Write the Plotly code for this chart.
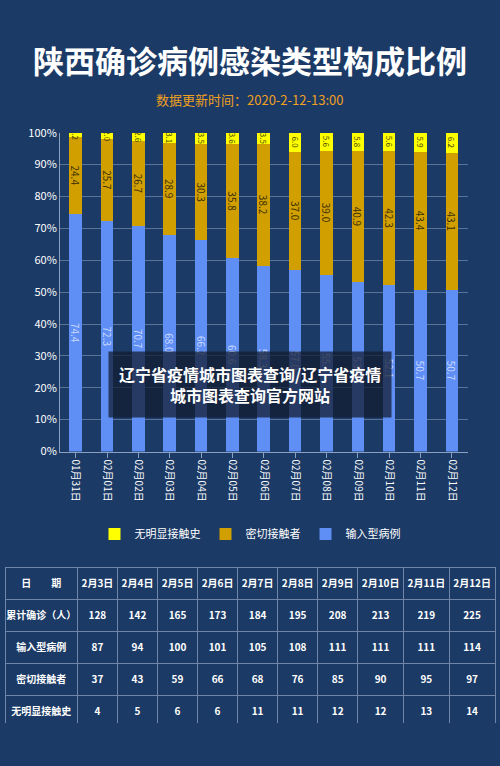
import plotly.graph_objects as go

# chart data (percent)
dates = ["01月31日", "02月01日", "02月02日", "02月03日", "02月04日", "02月05日", "02月06日",
         "02月07日", "02月08日", "02月09日", "02月10日", "02月11日", "02月12日"]
imported = [74.4, 72.3, 70.7, 68.0, 66.2, 60.6, 58.3, 57.0, 55.4, 53.3, 52.1, 50.7, 50.7]
close_contact = [24.4, 25.7, 26.7, 28.9, 30.3, 35.8, 38.2, 37.0, 39.0, 40.9, 42.3, 43.4, 43.1]
no_contact = [1.2, 2.0, 2.6, 3.1, 3.5, 3.6, 3.5, 6.0, 5.6, 5.8, 5.6, 5.9, 6.2]

# table data
tbl_dates = ["2月3日", "2月4日", "2月5日", "2月6日", "2月7日", "2月8日", "2月9日", "2月10日", "2月11日", "2月12日"]
tbl_total = [128, 142, 165, 173, 184, 195, 208, 213, 219, 225]
tbl_imported = [87, 94, 100, 101, 105, 108, 111, 111, 111, 114]
tbl_close = [37, 43, 59, 66, 68, 76, 85, 90, 95, 97]
tbl_none = [4, 5, 6, 6, 11, 11, 12, 12, 13, 14]

BG = "#1b3a66"
FONT = "Noto Sans CJK SC"

fig = go.Figure()
series = [("输入型病例", imported, "#5f8ff5", "#c8d8ff", 10),
          ("密切接触者", close_contact, "#d29f00", "#3a3000", 10),
          ("无明显接触史", no_contact, "#ffff00", "#444400", 8)]
for name, vals, col, tcol, fs in series:
    fig.add_trace(go.Bar(
        x=dates, y=vals, name=name, marker=dict(color=col, line=dict(width=0)),
        text=[f"{v:.1f}" for v in vals], textposition="inside", insidetextanchor="middle",
        textangle=90, textfont=dict(size=fs, color=tcol), constraintext="none",
    ))

cells = [["<b>累计确诊（人）</b>", "<b>输入型病例</b>", "<b>密切接触者</b>", "<b>无明显接触史</b>"]]
for i in range(len(tbl_dates)):
    cells.append([f"<b>{v}</b>" for v in (tbl_total[i], tbl_imported[i], tbl_close[i], tbl_none[i])])
fig.add_trace(go.Table(
    domain=dict(x=[0.01, 0.99], y=[0.048, 0.256]),
    columnwidth=[1.9] + [1.05] * 7 + [1.2] * 3,
    header=dict(values=["<b>日　　期</b>"] + [f"<b>{d}</b>" for d in tbl_dates], fill_color=BG, height=32,
                line=dict(color="#6f86a8", width=1),
                font=dict(color="white", size=10, family=FONT), align="center"),
    cells=dict(values=cells, fill_color=BG, height=32,
               line=dict(color="#6f86a8", width=1),
               font=dict(color="white", size=10, family=FONT), align="center"),
))

fig.update_layout(
    width=500, height=766, barmode="stack", bargap=0.6,
    paper_bgcolor=BG, plot_bgcolor=BG,
    margin=dict(l=0, r=0, t=0, b=0),
    font=dict(family=FONT, color="white"),
    showlegend=True,
    legend=dict(orientation="h", x=0.5, xanchor="center", y=0.30, yanchor="middle",
                traceorder="reversed", font=dict(size=11, color="white"),
                itemwidth=30),
    xaxis=dict(domain=[0.12, 0.935], tickangle=90, tickfont=dict(size=10, color="white"),
               showgrid=False, showline=True, linecolor="#8aa0c0", ticks="outside",
               tickcolor="#8aa0c0"),
    yaxis=dict(domain=[0.41, 0.835], range=[0, 100], dtick=10, ticksuffix="%",
               tickfont=dict(size=11, color="white"), gridcolor="#5a7399",
               showline=True, linecolor="#8aa0c0", zeroline=False),
    annotations=[
        dict(text="<b>陕西确诊病例感染类型构成比例</b>", x=0.5, y=0.933, xref="paper", yref="paper",
             yanchor="middle", showarrow=False, font=dict(size=31, color="white")),
        dict(text="数据更新时间：2020-2-12-13:00", x=0.5, y=0.88, xref="paper", yref="paper",
             yanchor="middle", showarrow=False, font=dict(size=13, color="#f0a020")),
        dict(text="<b>辽宁省疫情城市图表查询/辽宁省疫情<br>城市图表查询官方网站</b>", x=0.5, y=0.5,
             xref="paper", yref="paper", yanchor="middle", showarrow=False,
             bgcolor="rgba(20,30,50,0.75)", borderpad=10, font=dict(size=16, color="white")),
    ],
)

fig.write_html("out.html", config={"displayModeBar": False},
               post_script="document.body.style.margin='0';document.body.style.overflow='hidden';")
